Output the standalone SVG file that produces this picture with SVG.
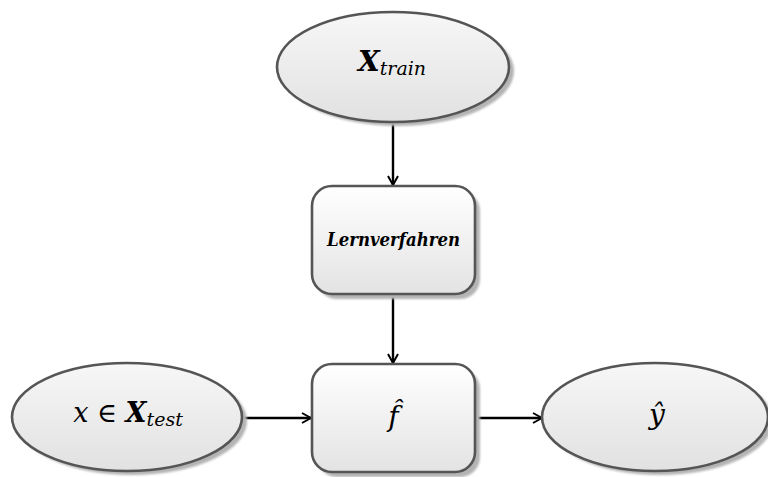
<svg xmlns="http://www.w3.org/2000/svg" width="768" height="477" viewBox="0 0 768 477">
  <defs>
    <linearGradient id="fillEllipse" x1="0" y1="0" x2="0" y2="1">
      <stop offset="0" stop-color="#f7f7f7"/>
      <stop offset="1" stop-color="#e1e1e1"/>
    </linearGradient>
    <linearGradient id="fillBox" x1="0" y1="0" x2="0" y2="1">
      <stop offset="0" stop-color="#ffffff"/>
      <stop offset="1" stop-color="#e3e3e3"/>
    </linearGradient>
    <filter id="soft" x="-10%" y="-10%" width="120%" height="120%">
      <feGaussianBlur stdDeviation="1.2"/>
    </filter>
    <marker id="arrow" viewBox="0 0 12 12" refX="11" refY="6" markerWidth="12" markerHeight="12" markerUnits="userSpaceOnUse" orient="auto">
      <path d="M2,1 L11,6 L2,11" fill="none" stroke="#000" stroke-width="2"/>
    </marker>
  </defs>
  <style>
    .shadow { fill: #b4b4b4; filter: url(#soft); }
    .ell { fill: url(#fillEllipse); stroke: #555; stroke-width: 2.6; }
    .box { fill: url(#fillBox); stroke: #555; stroke-width: 2.6; }
    .edge { stroke: #000; stroke-width: 2.4; fill: none; marker-end: url(#arrow); }
    .math { font-family: "DejaVu Serif", "Liberation Serif", serif; font-style: italic; fill: #000; }
    .bold { font-weight: bold; }
  </style>

  <rect width="768" height="477" fill="#ffffff"/>

  <g id="connectors">
    <line class="edge" x1="393" y1="122" x2="393" y2="185"/>
    <line class="edge" x1="393" y1="295" x2="393" y2="363"/>
    <line class="edge" x1="243" y1="418" x2="311" y2="418"/>
    <line class="edge" x1="476" y1="418" x2="542" y2="418"/>
  </g>

  <g id="x-train">
    <ellipse class="shadow" cx="398" cy="71" rx="116" ry="55"/>
    <ellipse class="ell" cx="393" cy="67" rx="116" ry="55"/>
    <text class="math" y="71" text-anchor="middle" x="392"><tspan class="bold" font-size="28">X</tspan><tspan font-size="19" dy="4">train</tspan></text>
  </g>

  <g id="lernverfahren">
    <rect class="shadow" x="317" y="191" width="163" height="108" rx="20"/>
    <rect class="box" x="312" y="186" width="163" height="108" rx="20"/>
    <text class="math bold" x="393.5" y="246" font-size="18" text-anchor="middle" textLength="133" lengthAdjust="spacingAndGlyphs">Lernverfahren</text>
  </g>

  <g id="f-hat">
    <rect class="shadow" x="317" y="369" width="163" height="108" rx="20"/>
    <rect class="box" x="312" y="364" width="163" height="108" rx="20"/>
    <text class="math" x="393.5" y="426" font-size="28" text-anchor="middle">f̂</text>
  </g>

  <g id="x-test">
    <ellipse class="shadow" cx="132" cy="421" rx="115" ry="54"/>
    <ellipse class="ell" cx="127" cy="417" rx="115" ry="54"/>
    <text class="math" x="128" y="422" font-size="27" text-anchor="middle">x <tspan font-style="normal">∈</tspan> <tspan class="bold">X</tspan><tspan font-size="19" dy="4">test</tspan></text>
  </g>

  <g id="y-hat">
    <ellipse class="shadow" cx="660" cy="421" rx="113" ry="54"/>
    <ellipse class="ell" cx="655" cy="417" rx="113" ry="54"/>
    <text class="math" x="657" y="424" font-size="28" text-anchor="middle">ŷ</text>
  </g>
</svg>
